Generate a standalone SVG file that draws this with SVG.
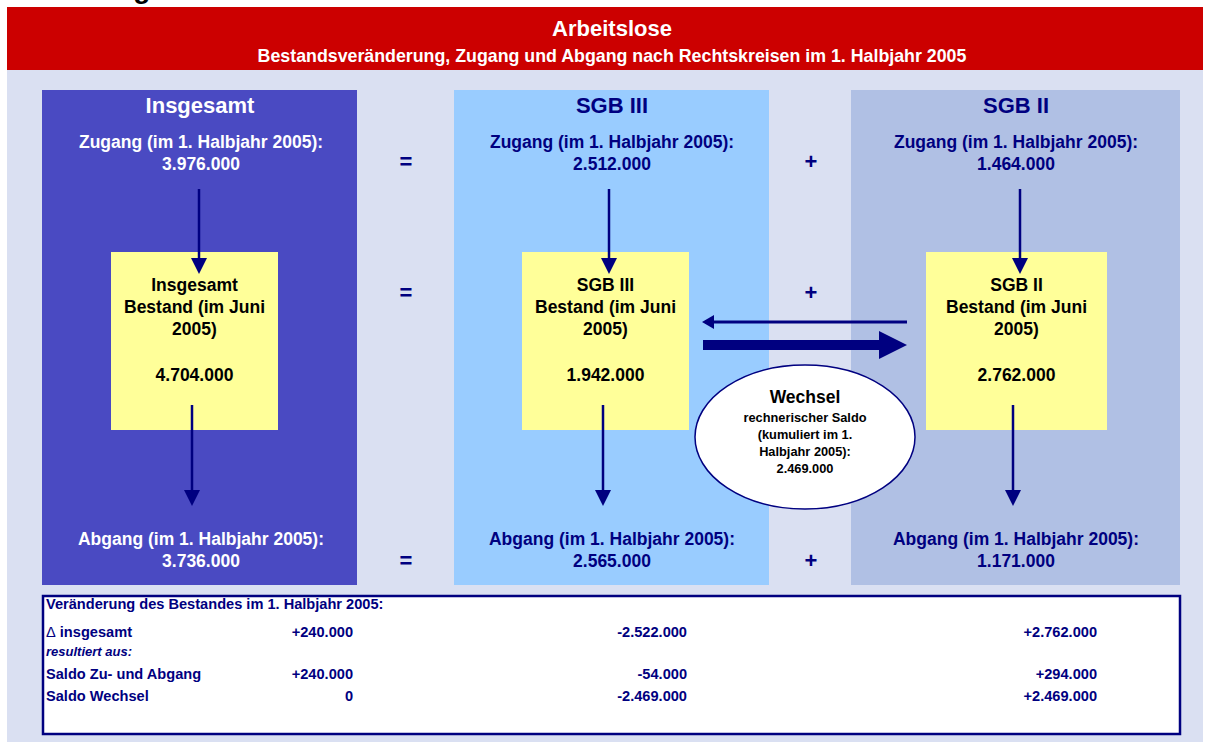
<svg xmlns="http://www.w3.org/2000/svg" width="1206" height="742" viewBox="0 0 1206 742">
<defs>
<style>
text{font-family:"Liberation Sans",Arial,Helvetica,sans-serif;font-weight:bold}
.w{fill:#ffffff}
.n{fill:#000080}
.k{fill:#000000}
.c{text-anchor:middle}
.r{text-anchor:end}
.h{font-size:22px}
.m{font-size:17.5px}
.op{font-size:22px}
.s{font-size:12.8px}
.t{font-size:14.6px}
.arr{stroke:#000080;stroke-width:2.5;fill:none}
</style>
<marker id="ah" viewBox="0 0 16 16" markerWidth="16" markerHeight="16" markerUnits="userSpaceOnUse" refX="12" refY="8" orient="auto">
<path d="M0,0 L16,8 L0,16 Z" fill="#000080"/>
</marker>
<marker id="ahs" viewBox="0 0 12 14" markerWidth="12" markerHeight="14" markerUnits="userSpaceOnUse" refX="9" refY="7" orient="auto">
<path d="M0,0 L12,7 L0,14 Z" fill="#000080"/>
</marker>
</defs>

<text x="12" y="-2" style="font-size:28px" class="k">Abbildung 6</text>

<g id="background">
<rect x="7" y="70" width="1196" height="672" fill="#DAE0F2"/>
</g>

<g id="title">
<rect x="7" y="7" width="1196" height="63" fill="#CC0000"/>
<text x="612" y="36" class="w c h">Arbeitslose</text>
<text x="612" y="62" class="w c" style="font-size:17.8px">Bestandsveränderung, Zugang und Abgang nach Rechtskreisen im 1. Halbjahr 2005</text>
</g>

<g id="col-insgesamt">
<rect x="42" y="90" width="315" height="495" fill="#4A4AC2"/>
<text x="200" y="113" class="w c h">Insgesamt</text>
<text x="201" y="148" class="w c m">Zugang (im 1. Halbjahr 2005):</text>
<text x="201" y="170" class="w c m">3.976.000</text>
<text x="201" y="545" class="w c m">Abgang (im 1. Halbjahr 2005):</text>
<text x="201" y="567" class="w c m">3.736.000</text>
</g>

<g id="col-sgb3">
<rect x="454" y="90" width="315" height="495" fill="#99CCFF"/>
<text x="612" y="113" class="n c h">SGB III</text>
<text x="612" y="148" class="n c m">Zugang (im 1. Halbjahr 2005):</text>
<text x="612" y="170" class="n c m">2.512.000</text>
<text x="612" y="545" class="n c m">Abgang (im 1. Halbjahr 2005):</text>
<text x="612" y="567" class="n c m">2.565.000</text>
</g>

<g id="col-sgb2">
<rect x="851" y="90" width="329" height="495" fill="#B0C0E4"/>
<text x="1016" y="113" class="n c h">SGB II</text>
<text x="1016" y="148" class="n c m">Zugang (im 1. Halbjahr 2005):</text>
<text x="1016" y="170" class="n c m">1.464.000</text>
<text x="1016" y="545" class="n c m">Abgang (im 1. Halbjahr 2005):</text>
<text x="1016" y="567" class="n c m">1.171.000</text>
</g>

<g id="operators">
<text x="406" y="169" class="n c op">=</text>
<text x="406" y="300" class="n c op">=</text>
<text x="406" y="568" class="n c op">=</text>
<text x="811" y="169" class="n c op">+</text>
<text x="811" y="300" class="n c op">+</text>
<text x="811" y="568" class="n c op">+</text>
</g>

<g id="bestand-insgesamt">
<rect x="111" y="252" width="167" height="178" fill="#FFFF99"/>
<text x="194.5" y="291" class="k c m">Insgesamt</text>
<text x="194.5" y="313" class="k c m">Bestand (im Juni</text>
<text x="194.5" y="335" class="k c m">2005)</text>
<text x="194.5" y="381" class="k c m">4.704.000</text>
</g>

<g id="bestand-sgb3">
<rect x="522" y="252" width="167" height="178" fill="#FFFF99"/>
<text x="605.5" y="291" class="k c m">SGB III</text>
<text x="605.5" y="313" class="k c m">Bestand (im Juni</text>
<text x="605.5" y="335" class="k c m">2005)</text>
<text x="605.5" y="381" class="k c m">1.942.000</text>
</g>

<g id="bestand-sgb2">
<rect x="926" y="252" width="181" height="178" fill="#FFFF99"/>
<text x="1016.5" y="291" class="k c m">SGB II</text>
<text x="1016.5" y="313" class="k c m">Bestand (im Juni</text>
<text x="1016.5" y="335" class="k c m">2005)</text>
<text x="1016.5" y="381" class="k c m">2.762.000</text>
</g>

<g id="connectors">
<line x1="199" y1="189" x2="199" y2="270" class="arr" marker-end="url(#ah)"/>
<line x1="609" y1="189" x2="609" y2="270" class="arr" marker-end="url(#ah)"/>
<line x1="1020" y1="189" x2="1020" y2="270" class="arr" marker-end="url(#ah)"/>
<line x1="192" y1="405" x2="192" y2="502" class="arr" marker-end="url(#ah)"/>
<line x1="603" y1="405" x2="603" y2="502" class="arr" marker-end="url(#ah)"/>
<line x1="1013" y1="405" x2="1013" y2="502" class="arr" marker-end="url(#ah)"/>
<line x1="907" y1="322" x2="705" y2="322" stroke="#000080" stroke-width="3" marker-end="url(#ahs)"/>
<path d="M703,340 L879,340 L879,331 L907,345 L879,359 L879,350 L703,350 Z" fill="#000080"/>
</g>

<g id="wechsel">
<ellipse cx="805" cy="437" rx="110" ry="72" fill="#ffffff" stroke="#000080" stroke-width="1.5"/>
<text x="805" y="403" class="k c m">Wechsel</text>
<text x="805" y="422" class="k c s">rechnerischer Saldo</text>
<text x="805" y="439" class="k c s">(kumuliert im 1.</text>
<text x="805" y="456" class="k c s">Halbjahr 2005):</text>
<text x="805" y="473" class="k c s">2.469.000</text>
</g>

<g id="tabelle">
<rect x="43" y="596" width="1137" height="138" fill="#ffffff" stroke="#000080" stroke-width="2.5"/>
<text x="46" y="609" class="n t">Veränderung des Bestandes im 1. Halbjahr 2005:</text>
<text x="46" y="637" class="n t"><tspan style="font-weight:normal">Δ</tspan> insgesamt</text>
<text x="46" y="656" class="n" style="font-size:13px;font-style:italic">resultiert aus:</text>
<text x="46" y="679" class="n t">Saldo Zu- und Abgang</text>
<text x="46" y="701" class="n t">Saldo Wechsel</text>
<text x="353" y="637" class="n t r">+240.000</text>
<text x="353" y="679" class="n t r">+240.000</text>
<text x="353" y="701" class="n t r">0</text>
<text x="687" y="637" class="n t r">-2.522.000</text>
<text x="687" y="679" class="n t r">-54.000</text>
<text x="687" y="701" class="n t r">-2.469.000</text>
<text x="1097" y="637" class="n t r">+2.762.000</text>
<text x="1097" y="679" class="n t r">+294.000</text>
<text x="1097" y="701" class="n t r">+2.469.000</text>
</g>
</svg>
